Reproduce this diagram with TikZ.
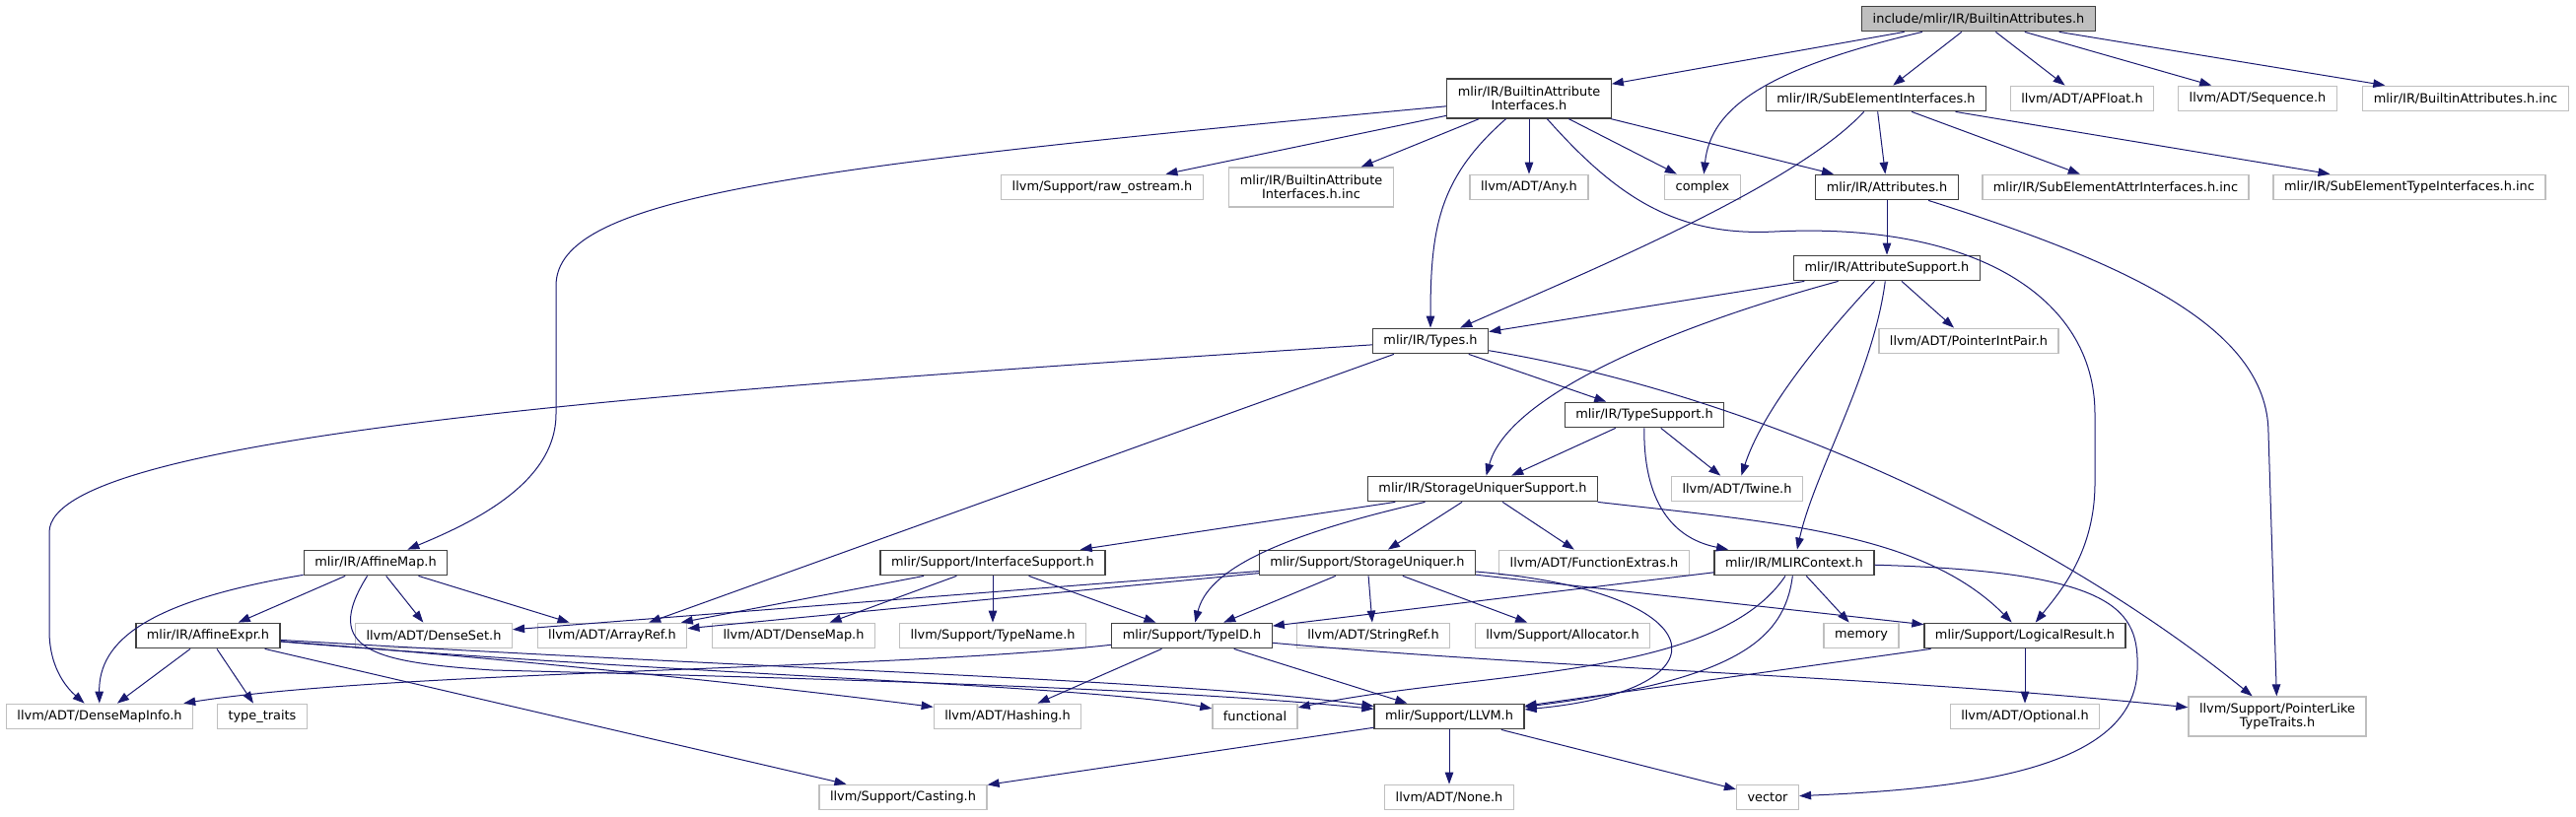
\documentclass[tikz,border=0pt]{standalone}
\usepackage{fontspec}
\setmainfont{DejaVu Sans}
\usetikzlibrary{arrows.meta}
\definecolor{incblue}{RGB}{25,25,112}
\definecolor{extgray}{RGB}{191,191,191}
\definecolor{docgray}{RGB}{64,64,64}

\begin{document}
\begin{tikzpicture}[x=1pt, y=-1pt,
    hdr/.style={draw, line width=1.3pt, minimum height=25.5pt, inner xsep=11pt,
                inner ysep=0pt, align=center, font=\fontsize{12.9}{13.8}\selectfont},
    doc/.style={hdr, draw=docgray},
    ext/.style={hdr, draw=extgray},
    top/.style={hdr, draw=docgray, fill=extgray},
    tall/.style={minimum height=40pt},
    inc/.style={draw=incblue, line width=1pt,
                -{Triangle[length=12pt, width=8.5pt]}, fill=none}
  ]
    \useasboundingbox (0,0) rectangle (2613,828);

    \node[top] (root) at (2007,19) {include/mlir/IR/BuiltinAttributes.h};

    \node[doc, tall] (bai) at (1551,100) {mlir/IR/BuiltinAttribute\\Interfaces.h};
    \node[doc] (sei) at (1903,100) {mlir/IR/SubElementInterfaces.h};
    \node[ext] (apfloat) at (2112,100) {llvm/ADT/APFloat.h};
    \node[ext] (sequence) at (2290,100) {llvm/ADT/Sequence.h};
    \node[ext] (bainc) at (2501,100) {mlir/IR/BuiltinAttributes.h.inc};

    \node[ext] (rawos) at (1118,190) {llvm/Support/raw\_ostream.h};
    \node[ext, tall] (baiinc) at (1330,190) {mlir/IR/BuiltinAttribute\\Interfaces.h.inc};
    \node[ext] (any) at (1551,190) {llvm/ADT/Any.h};
    \node[ext] (complex) at (1727,190) {complex};
    \node[doc] (attrs) at (1914,190) {mlir/IR/Attributes.h};
    \node[ext] (seainc) at (2146,190) {mlir/IR/SubElementAttrInterfaces.h.inc};
    \node[ext] (setinc) at (2444,190) {mlir/IR/SubElementTypeInterfaces.h.inc};

    \node[doc] (attrsup) at (1914,272) {mlir/IR/AttributeSupport.h};

    \node[doc] (types) at (1451,346) {mlir/IR/Types.h};
    \node[ext] (pip) at (1997,346) {llvm/ADT/PointerIntPair.h};

    \node[doc] (typesup) at (1668,421) {mlir/IR/TypeSupport.h};

    \node[doc] (sus) at (1504,496) {mlir/IR/StorageUniquerSupport.h};
    \node[ext] (twine) at (1762,496) {llvm/ADT/Twine.h};

    \node[doc] (affmap) at (381,571) {mlir/IR/AffineMap.h};
    \node[doc] (ifsup) at (1007,571) {mlir/Support/InterfaceSupport.h};
    \node[doc] (stuniq) at (1387,571) {mlir/Support/StorageUniquer.h};
    \node[ext] (funcext) at (1617,571) {llvm/ADT/FunctionExtras.h};
    \node[doc] (mlirctx) at (1820,571) {mlir/IR/MLIRContext.h};

    \node[doc] (affexpr) at (211,645) {mlir/IR/AffineExpr.h};
    \node[ext] (denseset) at (440,645) {llvm/ADT/DenseSet.h};
    \node[ext] (arrayref) at (621,645) {llvm/ADT/ArrayRef.h};
    \node[ext] (densemap) at (805,645) {llvm/ADT/DenseMap.h};
    \node[ext] (typename) at (1007,645) {llvm/Support/TypeName.h};
    \node[doc] (typeid) at (1209,645) {mlir/Support/TypeID.h};
    \node[ext] (stringref) at (1393,645) {llvm/ADT/StringRef.h};
    \node[ext] (allocator) at (1585,645) {llvm/Support/Allocator.h};
    \node[ext] (memory) at (1888,645) {memory};
    \node[doc] (logres) at (2054,645) {mlir/Support/LogicalResult.h};

    \node[ext] (dmi) at (101,727) {llvm/ADT/DenseMapInfo.h};
    \node[ext] (typetraits) at (266,727) {type\_traits};
    \node[ext] (hashing) at (1022,727) {llvm/ADT/Hashing.h};
    \node[ext] (functional) at (1273,727) {functional};
    \node[doc] (llvm) at (1470,727) {mlir/Support/LLVM.h};
    \node[ext] (optional) at (2054,727) {llvm/ADT/Optional.h};
    \node[ext, tall] (pltt) at (2310,727) {llvm/Support/PointerLike\\TypeTraits.h};

    \node[ext] (casting) at (916,809) {llvm/Support/Casting.h};
    \node[ext] (none) at (1470,809) {llvm/ADT/None.h};
    \node[ext] (vector) at (1793,809) {vector};

    \foreach \a/\b in {root/bai, root/sei, root/apfloat, root/sequence, root/bainc,
        bai/rawos, bai/baiinc, bai/any, bai/complex, bai/attrs,
        sei/attrs, sei/seainc, sei/setinc, attrs/attrsup,
        attrsup/types, attrsup/pip, types/arrayref, types/typesup,
        typesup/sus, typesup/twine, sus/ifsup, sus/stuniq, sus/funcext,
        ifsup/arrayref, ifsup/densemap, ifsup/typename, ifsup/typeid,
        stuniq/denseset, stuniq/arrayref, stuniq/typeid, stuniq/stringref,
        stuniq/allocator, stuniq/logres, mlirctx/typeid, mlirctx/memory,
        affmap/affexpr, affmap/denseset, affmap/arrayref,
        affexpr/dmi, affexpr/typetraits, affexpr/casting,
        typeid/hashing, typeid/llvm, logres/optional, logres/llvm,
        llvm/casting, llvm/none, llvm/vector} {
      \draw[inc] (\a) -- (\b);
    }

    \draw[inc] (root) .. controls (1790,70) and (1735,110) .. (complex);
    \draw[inc] (bai) .. controls (800,170) and (564,200) .. (564,290) -- (564,420)
      .. controls (564,490) and (480,530) .. (affmap);
    \draw[inc] (bai) .. controls (1460,180) and (1451,230) .. (types);
    \draw[inc] (bai) .. controls (1640,200) and (1700,240) .. (1800,235)
      .. controls (2000,225) and (2125,300) .. (2125,420) -- (2125,490)
      .. controls (2125,560) and (2090,600) .. (logres);
    \draw[inc] (sei) .. controls (1820,190) and (1600,280) .. (types);
    \draw[inc] (attrs) .. controls (2150,265) and (2301,330) .. (2301,440) -- (pltt);
    \draw[inc] (attrsup) .. controls (1700,330) and (1530,400) .. (sus);
    \draw[inc] (attrsup) .. controls (1860,330) and (1790,410) .. (twine);
    \draw[inc] (attrsup) .. controls (1900,380) and (1840,480) .. (mlirctx);
    \draw[inc] (types) .. controls (700,395) and (50,440) .. (50,540) -- (50,640)
      .. controls (50,680) and (70,700) .. (dmi);
    \draw[inc] (types) .. controls (1780,400) and (2080,540) .. (pltt);
    \draw[inc] (typesup) .. controls (1667,500) and (1690,545) .. (mlirctx);
    \draw[inc] (sus) .. controls (1290,545) and (1225,580) .. (typeid);
    \draw[inc] (sus) .. controls (1800,530) and (1950,540) .. (logres);
    \draw[inc] (stuniq) .. controls (1740,600) and (1760,700) .. (llvm);
    \draw[inc] (mlirctx) .. controls (1810,650) and (1760,690) .. (llvm);
    \draw[inc] (mlirctx) .. controls (1740,690) and (1500,680) .. (functional);
    \draw[inc] (mlirctx) .. controls (2150,580) and (2170,620) .. (2168,680)
      .. controls (2165,780) and (2000,800) .. (vector);
    \draw[inc] (affmap) .. controls (150,610) and (100,650) .. (dmi);
    \draw[inc] (affmap) .. controls (325,660) and (380,672) .. (500,680)
      .. controls (900,690) and (1200,700) .. (llvm);
    \draw[inc] (affexpr) .. controls (600,675) and (850,705) .. (hashing);
    \draw[inc] (affexpr) .. controls (700,685) and (1100,695) .. (functional);
    \draw[inc] (affexpr) .. controls (800,680) and (1200,690) .. (llvm);
    \draw[inc] (typeid) .. controls (900,680) and (400,680) .. (dmi);
    \draw[inc] (typeid) .. controls (1600,680) and (1900,685) .. (pltt);
  \end{tikzpicture}
\end{document}
